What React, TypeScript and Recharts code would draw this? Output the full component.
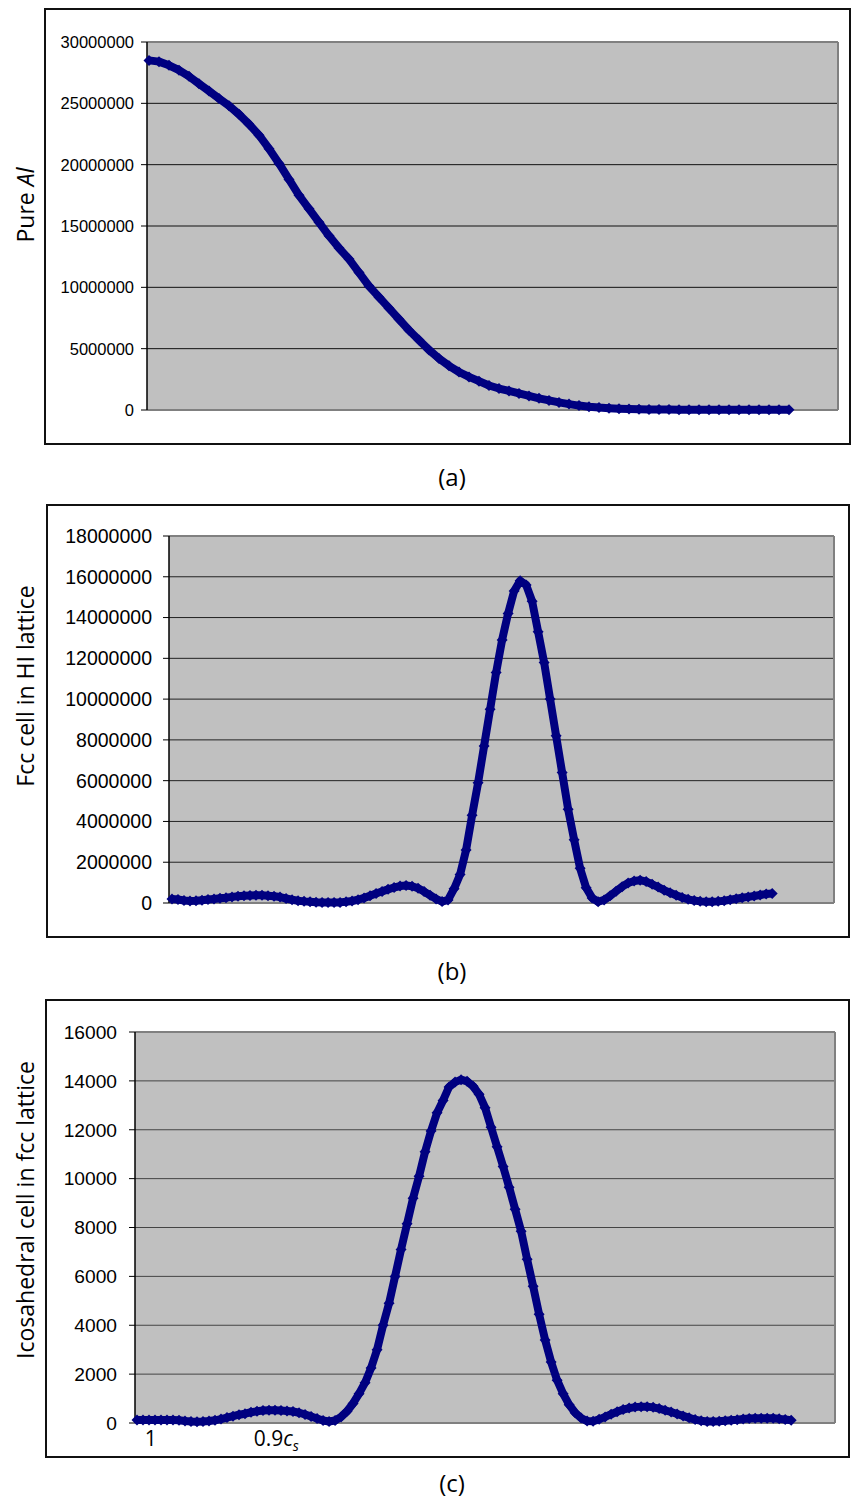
import React from "react";
import { LineChart, Line, XAxis, YAxis, CartesianGrid, ReferenceLine } from "recharts";

// (a) pure Al, values in millions, one per sample along the x direction
const pureAlMillions = [
  28.5, 28.4, 28.1, 27.7, 27.2, 26.6, 26.0, 25.4, 24.8,
  24.1, 23.3, 22.4, 21.3, 20.1, 18.8, 17.5, 16.4, 15.3, 14.2,
  13.2, 12.3, 11.2, 10.1, 9.2, 8.3, 7.4, 6.5, 5.7, 4.9,
  4.2, 3.6, 3.1, 2.7, 2.35, 2.0, 1.75, 1.55, 1.35, 1.15,
  0.95, 0.78, 0.62, 0.48, 0.36, 0.27, 0.2, 0.15, 0.11, 0.08,
  0.06, 0.05, 0.04, 0.04, 0.03, 0.03, 0.03, 0.02, 0.02, 0.02,
  0.02, 0.02, 0.02, 0.02, 0.02, 0.02,
];

// (b) fcc cell in HI lattice, millions
const fccInHiMillions = [
  0.2, 0.17, 0.12, 0.1, 0.11, 0.14, 0.17, 0.2, 0.23, 0.26,
  0.3, 0.33, 0.35, 0.37, 0.38, 0.38, 0.36, 0.33, 0.29, 0.22,
  0.16, 0.11, 0.08, 0.06, 0.04, 0.03, 0.02, 0.02, 0.03, 0.06,
  0.1, 0.16, 0.25, 0.35, 0.46, 0.57, 0.67, 0.76, 0.83, 0.86,
  0.82, 0.72, 0.56, 0.38, 0.2, 0.07, 0.15, 0.7, 1.4, 2.6,
  4.3, 5.9, 7.7, 9.5, 11.3, 12.9, 14.2, 15.3, 15.8, 15.6,
  14.8, 13.3, 11.8, 10.0, 8.2, 6.4, 4.6, 3.1, 1.7, 0.75,
  0.25, 0.06, 0.15, 0.35, 0.58, 0.8, 0.98, 1.08, 1.12, 1.05,
  0.92, 0.78, 0.63, 0.5, 0.38, 0.27, 0.18, 0.12, 0.08, 0.06,
  0.06, 0.08, 0.11, 0.16, 0.21, 0.26, 0.3, 0.34, 0.39, 0.44,
  0.47,
];

// (c) icosahedral cell in fcc lattice
const icoInFcc = [
  120, 120, 120, 120, 120, 120, 120, 110, 80, 60,
  55, 60, 80, 110, 160, 220, 280, 340, 380, 440,
  480, 510, 525, 525, 515, 495, 470, 420, 350, 270,
  180, 100, 60, 100, 250, 480, 800, 1200, 1650, 2250,
  3000, 4000, 4900, 6000, 7100, 8150, 9200, 10100, 11100, 11950,
  12700, 13200, 13750, 13950, 14050, 13980, 13780, 13450, 12900, 12100,
  11300, 10500, 9650, 8750, 7850, 6700, 5600, 4450, 3400, 2500,
  1750, 1200, 750, 420, 200, 80, 70, 150, 250, 360,
  460, 550, 610, 650, 670, 670, 640, 590, 520, 450,
  370, 290, 210, 140, 90, 60, 60, 70, 90, 110,
  130, 160, 180, 190, 190, 190, 190, 170, 140, 110,
];

const pureAlTicks = [0, 5000000, 10000000, 15000000, 20000000, 25000000, 30000000];
const fccTicks = [0, 2000000, 4000000, 6000000, 8000000, 10000000, 12000000, 14000000, 16000000, 18000000];
const icoTicks = [0, 2000, 4000, 6000, 8000, 10000, 12000, 14000, 16000];

// x labels written under panel (c), at sample positions
const icoXTickAt = [2.3, 23.2];
const icoXTickText = ["1", "0.9c_s"];

const NAVY = "#000080";
const LABEL_FONT = "'Open Sans', 'Noto Sans', sans-serif";
const TICK_FONT = "'Liberation Sans', Arial, sans-serif";

const toRows = (vals: number[], scale = 1) => vals.map((v, i) => ({ i, v: v * scale }));

const diamond = (r: number) => (props: any) => {
  const { cx, cy, index } = props;
  if (cx == null || cy == null) return <g key={`d-${index}`} />;
  return (
    <path
      key={`d-${index}`}
      d={`M${cx},${cy - r}L${cx + r},${cy}L${cx},${cy + r}L${cx - r},${cy}Z`}
      fill={NAVY}
    />
  );
};

interface PanelProps {
  top: number;
  height: number;
  box: { left: number; width: number };
  data: { i: number; v: number }[];
  xDomain: [number, number];
  ticks: number[];
  yAxisWidth: number;
  margin: { top: number; right: number; bottom: number };
  tickFont: number;
  tickMargin: number;
  gridColor: string;
  title: React.ReactNode;
  titleY: number;
  xAxisHeight?: number;
  showXLabels?: boolean;
}

const Panel = (p: PanelProps) => {
  const yMax = p.ticks[p.ticks.length - 1];
  const xTick = (t: any) => {
    const k = icoXTickAt.indexOf(t.payload.value);
    if (k < 0) return <g />;
    const txt = icoXTickText[k];
    const [base, sub] = txt.split("_");
    return (
      <text x={t.x} y={p.height - 12} textAnchor="middle" fontFamily={LABEL_FONT} fontSize={21} fill="#000">
        {sub ? (
          <>
            <tspan>{base.slice(0, -1)}</tspan>
            <tspan fontStyle="italic">{base.slice(-1)}</tspan>
            <tspan fontStyle="italic" fontSize={14} dy={5}>{sub}</tspan>
          </>
        ) : (
          base
        )}
      </text>
    );
  };
  return (
    <>
      <div
        style={{
          position: "absolute", left: p.box.left, top: p.top, width: p.box.width, height: p.height,
          border: "2px solid #111", boxSizing: "border-box",
        }}
      />
      <svg style={{ position: "absolute", left: 0, top: p.top }} width={60} height={p.height}>
        <text
          transform={`translate(25, ${p.titleY}) rotate(-90)`}
          textAnchor="middle" dominantBaseline="central"
          fontFamily={LABEL_FONT} fontSize={23} fill="#000"
        >
          {p.title}
        </text>
      </svg>
      <div style={{ position: "absolute", left: 0, top: p.top }}>
        <LineChart width={853} height={p.height} data={p.data} margin={{ ...p.margin, left: 0 }}>
          <CartesianGrid vertical={false} stroke={p.gridColor} fill="#c0c0c0" />
          <XAxis
            type="number" dataKey="i" domain={p.xDomain} hide={!p.showXLabels}
            ticks={p.showXLabels ? icoXTickAt : undefined} interval={0}
            axisLine={false} tickLine={false} height={p.xAxisHeight ?? 0} tick={xTick}
          />
          <YAxis
            type="number" domain={[0, yMax]} ticks={p.ticks} interval={0} width={p.yAxisWidth}
            tickSize={6} tickMargin={p.tickMargin}
            tick={{ fill: "#000", fontSize: p.tickFont, fontFamily: TICK_FONT }}
            tickFormatter={(v: number) => String(v)}
            axisLine={{ stroke: "#000", strokeWidth: 1.5 }} tickLine={{ stroke: "#000" }}
          />
          <ReferenceLine y={yMax} stroke="#808080" strokeWidth={2} />
          <ReferenceLine x={p.xDomain[1]} stroke="#808080" strokeWidth={2} />
          <ReferenceLine y={0} stroke="#808080" strokeWidth={2} />
          <Line
            type="linear" dataKey="v" stroke={NAVY} strokeWidth={8} strokeLinejoin="round"
            dot={diamond(5.5)} isAnimationActive={false}
          />
        </LineChart>
      </div>
    </>
  );
};

const Caption = ({ text, y }: { text: string; y: number }) => (
  <svg style={{ position: "absolute", left: 0, top: y - 16 }} width={853} height={32}>
    <text
      x={452} y={16} textAnchor="middle" dominantBaseline="central"
      fontFamily={LABEL_FONT} fontSize={24} fill="#000"
    >
      {text}
    </text>
  </svg>
);

export default function App() {
  return (
    <div style={{ position: "absolute", left: 0, top: 0, width: 853, height: 1499, background: "#fff", overflow: "hidden" }}>
      <Panel
        top={8} height={437} box={{ left: 44, width: 807 }}
        data={toRows(pureAlMillions, 1000000)} xDomain={[-0.2, 68.9]} ticks={pureAlTicks}
        yAxisWidth={147} margin={{ top: 34, right: 15, bottom: 35 }}
        tickFont={16.5} tickMargin={7} gridColor="#111"
        title={<>Pure <tspan fontStyle="italic">Al</tspan></>} titleY={197}
      />
      <Caption text="(a)" y={476} />

      <Panel
        top={504} height={434} box={{ left: 46, width: 804 }}
        data={toRows(fccInHiMillions, 1000000)} xDomain={[-0.5, 110.3]} ticks={fccTicks}
        yAxisWidth={169} margin={{ top: 32, right: 19, bottom: 35 }}
        tickFont={19.5} tickMargin={11} gridColor="#222"
        title="Fcc cell in HI lattice" titleY={182}
      />
      <Caption text="(b)" y={970} />

      <Panel
        top={999} height={459} box={{ left: 45, width: 805 }}
        data={toRows(icoInFcc)} xDomain={[-0.33, 116.3]} ticks={icoTicks}
        yAxisWidth={135} margin={{ top: 33, right: 18, bottom: 0 }}
        tickFont={19.2} tickMargin={12} gridColor="#444"
        title="Icosahedral cell in fcc lattice" titleY={211}
        xAxisHeight={35} showXLabels
      />
      <Caption text="(c)" y={1482} />
    </div>
  );
}
